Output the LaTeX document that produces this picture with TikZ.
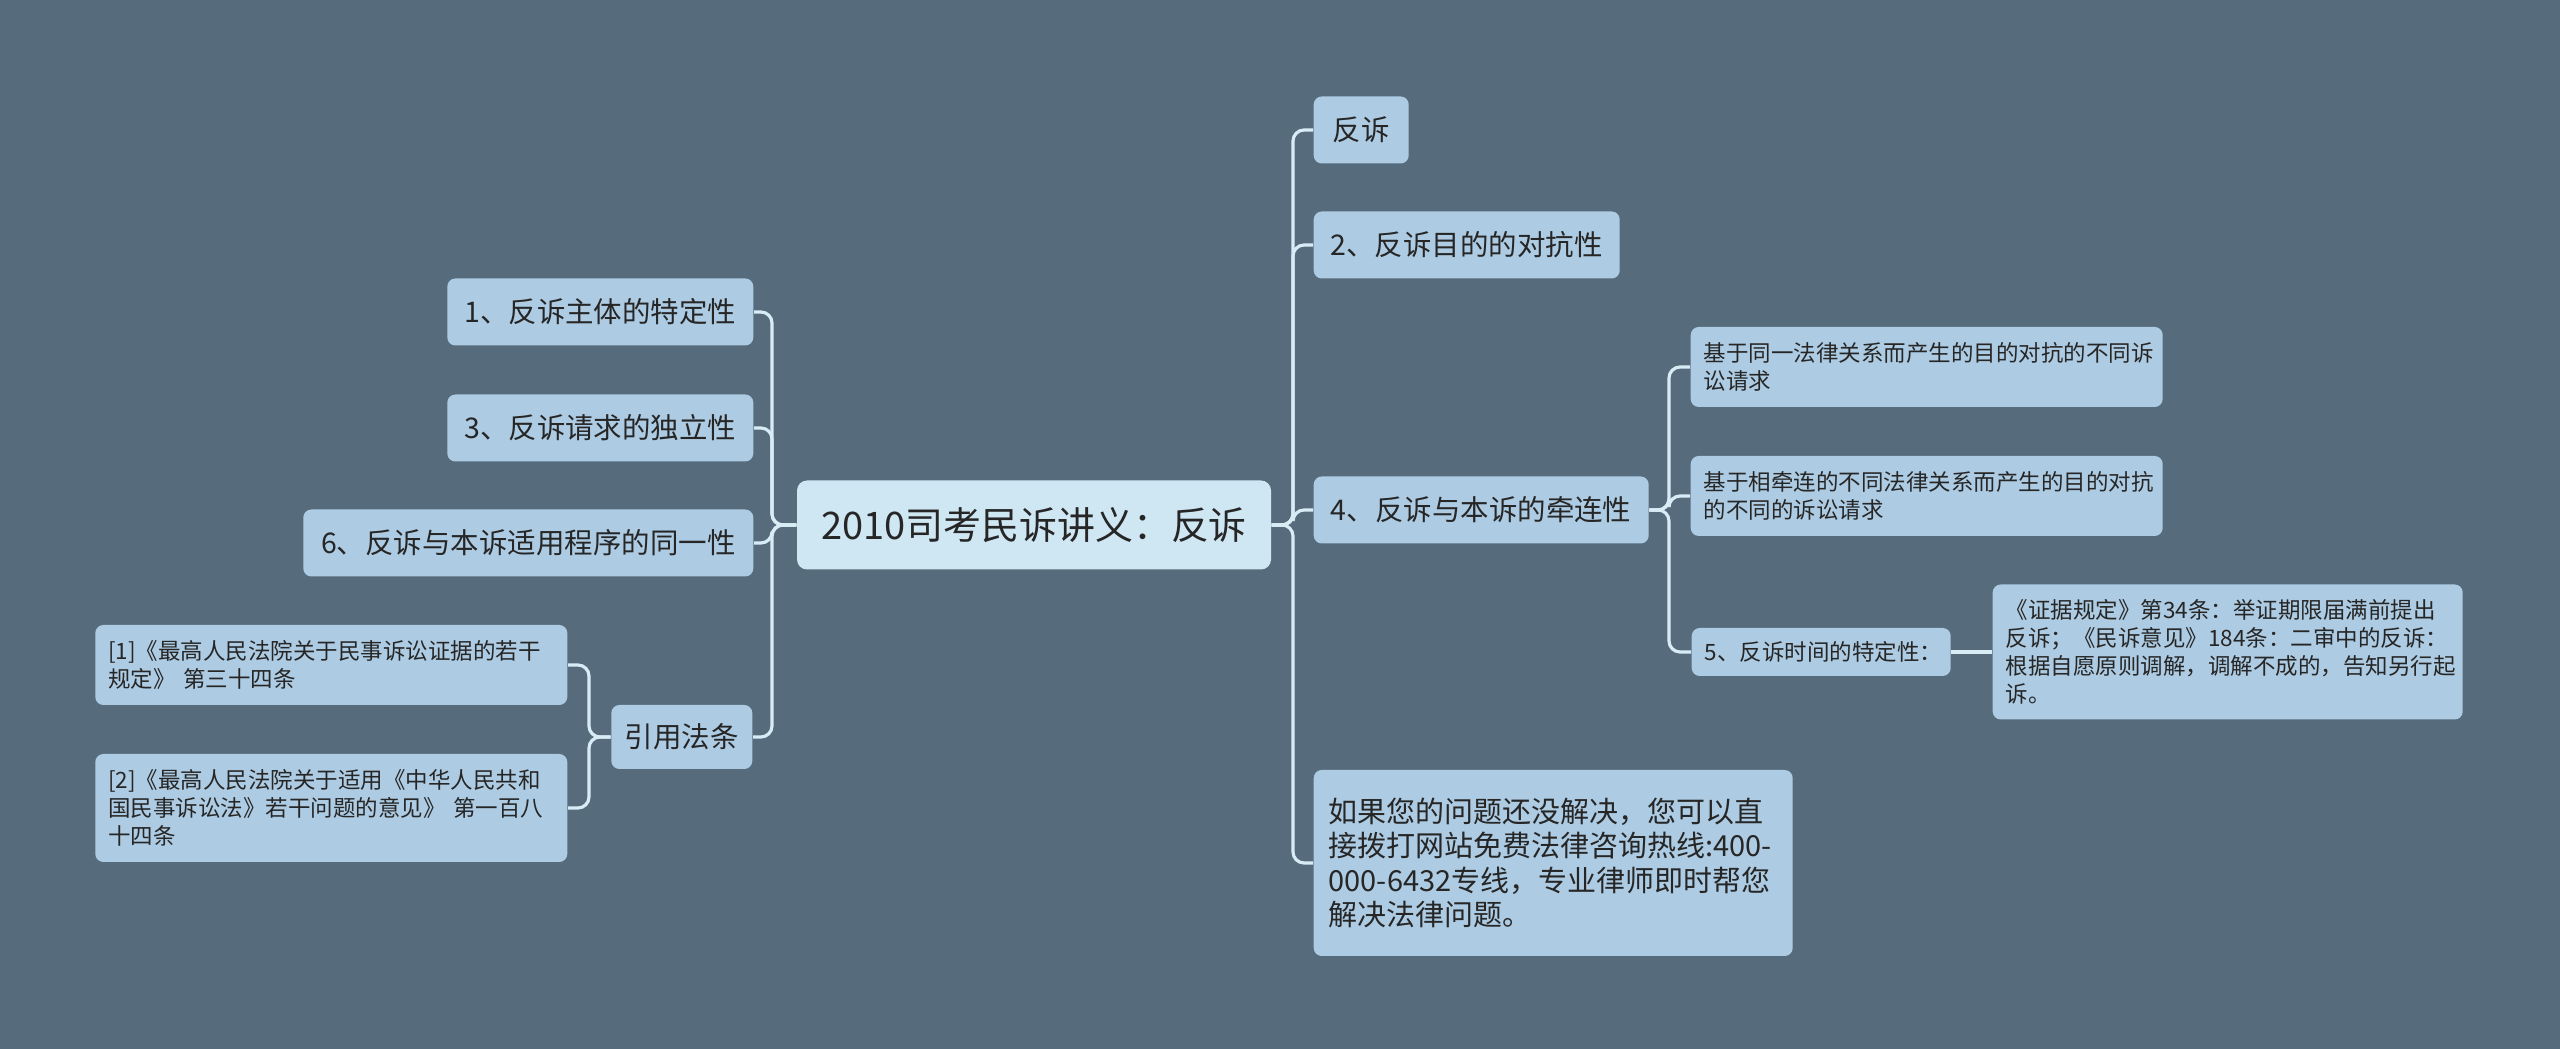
\documentclass[tikz,border=0pt]{standalone}
\usepackage{fontspec}
\setmainfont{Noto Sans CJK SC}
\usepackage{xcolor}
\usepackage{tikz}
\usetikzlibrary{positioning,calc}
\definecolor{bgslate}{HTML}{566B7B}
\definecolor{nodeblue}{HTML}{ADCBE2}
\definecolor{rootblue}{HTML}{CFE6F3}
\definecolor{linkblue}{HTML}{D8ECF6}
\definecolor{ink}{HTML}{262626}

\begin{document}
\begin{tikzpicture}[x=1cm, y=-1cm,
  rootbox/.style={fill=rootblue, rounded corners=0.1cm, text=ink, inner sep=0pt,
                  minimum width=4.74cm, minimum height=0.89cm,
                  font=\fontsize{10.8pt}{13pt}\selectfont},
  topic/.style={fill=nodeblue, rounded corners=0.08cm, text=ink, inner sep=0pt,
                minimum height=0.67cm, font=\fontsize{8.1pt}{9.7pt}\selectfont},
  note/.style={fill=nodeblue, rounded corners=0.08cm, text=ink, align=left,
               inner xsep=0.13cm, inner ysep=0pt,
               font=\fontsize{6.4pt}{7.97pt}\selectfont},
  link/.style={draw=linkblue, line width=0.9pt, rounded corners=0.11cm},
]
\fill[bgslate] (0,0) rectangle (25.6,10.49);
\useasboundingbox (0,0) rectangle (25.6,10.49);

% centre
\node[rootbox] (root) at (10.34,5.25) {2010司考民诉讲义：反诉};

% right branch
\node[topic, anchor=west, minimum width=0.95cm] (fs) at (13.13,1.30) {反诉};
\node[topic, anchor=west, minimum width=3.06cm] (mudi) at (13.13,2.45) {2、反诉目的的对抗性};
\node[topic, anchor=west, minimum width=3.35cm] (qianlian) at (13.13,5.10) {4、反诉与本诉的牵连性};
\node[note, anchor=west, text width=4.46cm, minimum height=0.80cm] (tongyi) at (16.90,3.67)
  {基于同一法律关系而产生的目的对抗的不同诉\\讼请求};
\node[note, anchor=west, text width=4.46cm, minimum height=0.80cm] (xiangqian) at (16.90,4.96)
  {基于相牵连的不同法律关系而产生的目的对抗\\的不同的诉讼请求};
\node[note, anchor=west, text width=2.33cm, minimum height=0.48cm] (shijian) at (16.91,6.52)
  {5、反诉时间的特定性：};
\node[note, anchor=west, text width=4.44cm, minimum height=1.35cm] (guiding) at (19.92,6.52)
  {《证据规定》第34条：举证期限届满前提出\\反诉；《民诉意见》184条：二审中的反诉：\\根据自愿原则调解，调解不成的，告知另行起\\诉。};
\node[note, anchor=west, text width=4.49cm, minimum height=1.86cm, inner xsep=0.15cm,
      font=\fontsize{8.25pt}{9.7pt}\selectfont] (zixun) at (13.13,8.63)
  {如果您的问题还没解决，您可以直\\接拨打网站免费法律咨询热线:400-\\000-6432专线，专业律师即时帮您\\解决法律问题。};

\draw[link] (root.east) -- (12.93,5.25) |- (fs.west);
\draw[link] (root.east) -- (12.93,5.25) |- (mudi.west);
\draw[link] (root.east) -- (12.93,5.25) |- (qianlian.west);
\draw[link] (root.east) -- (12.93,5.25) |- (zixun.west);
\draw[link] (qianlian.east) -- (16.69,5.10) |- (tongyi.west);
\draw[link] (qianlian.east) -- (16.69,5.10) |- (xiangqian.west);
\draw[link] (qianlian.east) -- (16.69,5.10) |- (shijian.west);
\draw[link] (shijian.east) -- (guiding.west);

% left branch
\node[topic, anchor=east, minimum width=3.06cm] (zhuti) at (7.54,3.12) {1、反诉主体的特定性};
\node[topic, anchor=east, minimum width=3.06cm] (duli) at (7.54,4.28) {3、反诉请求的独立性};
\node[topic, anchor=east, minimum width=4.50cm] (chengxu) at (7.54,5.43) {6、反诉与本诉适用程序的同一性};
\node[topic, anchor=east, minimum width=1.41cm, minimum height=0.64cm] (fatiao) at (7.53,7.37) {引用法条};
\node[note, anchor=east, text width=4.46cm, minimum height=0.80cm] (cite1) at (5.68,6.65)
  {[1]《最高人民法院关于民事诉讼证据的若干\\规定》 第三十四条};
\node[note, anchor=east, text width=4.46cm, minimum height=1.08cm] (cite2) at (5.68,8.08)
  {[2]《最高人民法院关于适用《中华人民共和\\国民事诉讼法》若干问题的意见》 第一百八\\十四条};

\draw[link] (root.west) -- (7.72,5.25) |- (zhuti.east);
\draw[link] (root.west) -- (7.72,5.25) |- (duli.east);
\draw[link] (root.west) -- (7.72,5.25) |- (chengxu.east);
\draw[link] (root.west) -- (7.72,5.25) |- (fatiao.east);
\draw[link] (fatiao.west) -- (5.89,7.37) |- (cite1.east);
\draw[link] (fatiao.west) -- (5.89,7.37) |- (cite2.east);
\end{tikzpicture}
\end{document}
